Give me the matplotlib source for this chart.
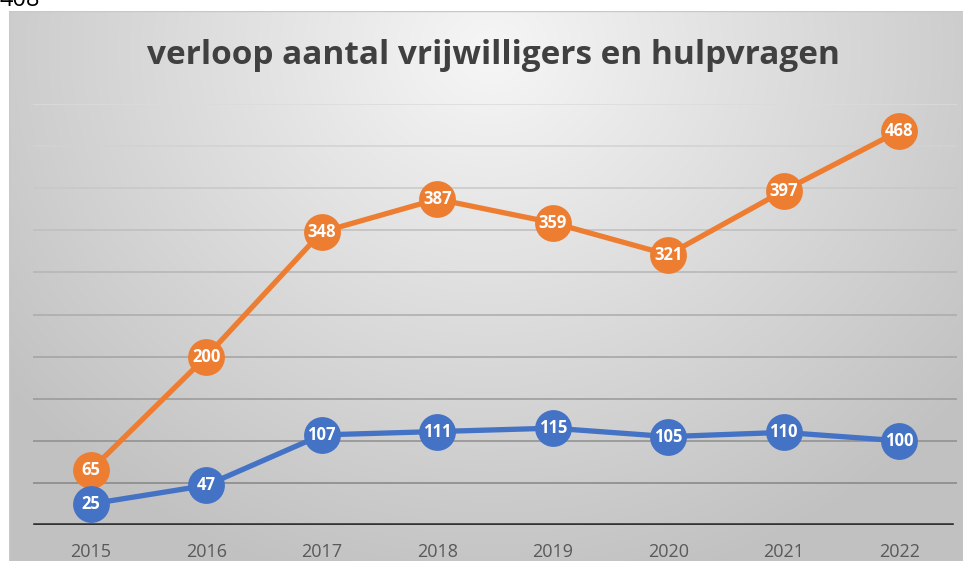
import numpy as np
import matplotlib
matplotlib.use("Agg")
import matplotlib.pyplot as plt

jaren = ["2015", "2016", "2017", "2018", "2019", "2020", "2021", "2022"]
hulpvragen = [65, 200, 348, 387, 359, 321, 397, 468]
vrijwilligers = [25, 47, 107, 111, 115, 105, 110, 100]
y_ticks = list(range(0, 501, 50))

W, H = 963, 561
fig = plt.figure(figsize=(W / 100, H / 100), dpi=100)
fig.patch.set_facecolor("white")

# radial grey background of the chart panel
bg = fig.add_axes([9 / W, 0, 1 - 9 / W, (H - 11) / H])
yy, xx = np.mgrid[0:550, 0:954]
d = np.sqrt(((xx - 480) / 620.0) ** 2 + ((yy - 40) / 560.0) ** 2)
shade = np.clip(0.965 - 0.21 * d, 0.76, 0.97)
bg.imshow(np.dstack([shade] * 3), aspect="auto", extent=[0, 1, 0, 1], origin="upper")
bg.set_axis_off()
bg.add_patch(plt.Rectangle((0, 0), 1, 1, transform=bg.transAxes, fill=False,
                           edgecolor="#c8c8c8", lw=1.0))

fig.text(0.0, 1.0, "408", fontsize=17, color="black", ha="left", va="center",
         family="Open Sans")

ax = fig.add_axes([33 / W, 36 / H, 924 / W, 421 / H])
ax.set_facecolor("none")
x = np.arange(len(jaren))
ax.set_xlim(-0.5, len(jaren) - 0.5)
ax.set_ylim(0, 500)

for i, t in enumerate(y_ticks[1:]):
    c = 0.52 + 0.34 * i / (len(y_ticks) - 2)
    ax.axhline(t, color=(c, c, c), lw=1.1, zorder=1)
ax.axhline(0, color="#333333", lw=2.6, zorder=2, xmin=0.002, xmax=0.995)

for vals, kleur in [(hulpvragen, "#ED7D31"), (vrijwilligers, "#4472C4")]:
    ax.plot(x, vals, color=kleur, lw=3.8, marker="o", markersize=26.5,
            markeredgewidth=0, zorder=3, clip_on=False)
    for xi, v in zip(x, vals):
        ax.text(xi, v, str(v), color="white", fontsize=12, fontweight="bold",
                ha="center", va="center", zorder=4, family="Open Sans")

for s in ax.spines.values():
    s.set_visible(False)
ax.set_yticks([])
ax.set_xticks(x)
ax.set_xticklabels(jaren, fontsize=13, color="#595959", family="Open Sans")
ax.tick_params(axis="x", length=0, pad=13)

fig.text(493 / W, 1 - 55 / H, "verloop aantal vrijwilligers en hulpvragen",
         fontsize=24, fontweight="bold", color="#404040", ha="center", va="center",
         family="Open Sans")

fig.savefig("out.png", dpi=100)
